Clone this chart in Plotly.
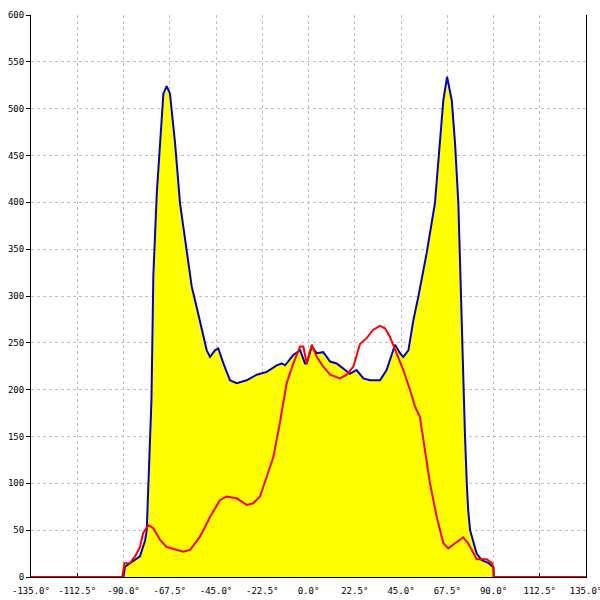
import plotly.graph_objects as go

# Blue envelope (filled yellow)
blue_x = [-90.0, -89.3, -82.0, -79.5, -78.7, -77.9, -77.1, -76.4, -76.0, -75.5, -73.8, -72.2,
          -70.6, -69.0, -67.4, -64.9, -62.5, -60.9, -58.5, -56.8, -54.4, -52.0, -49.5, -47.9,
          -45.5, -43.9, -41.4, -38.2, -34.9, -30.1, -25.2, -20.3, -15.5, -13.0, -11.4, -7.4,
          -4.1, -1.7, -0.9, 1.6, 4.0, 7.2, 10.5, 13.7, 16.9, 20.2, 23.4, 26.7, 29.9, 34.8,
          38.0, 42.1, 44.5, 46.1, 48.6, 51.0, 53.4, 57.5, 61.5, 64.0, 65.6, 67.4, 69.7, 71.3,
          72.9, 73.7, 74.5, 75.3, 76.1, 77.0, 77.7, 78.6, 80.2, 81.8, 84.3, 87.5, 89.1, 90.0, 90.1]
blue_y = [0, 11, 22, 39, 50, 100, 150, 189, 246, 321, 410, 463,
          516, 524, 516, 463, 399, 374, 338, 310, 288, 267, 242, 235,
          242, 244, 228, 210, 207, 210, 216, 219, 226, 228, 226, 237,
          242, 228, 228, 246, 239, 240, 230, 228, 223, 217, 221, 212, 210, 210,
          221, 248, 239, 235, 242, 274, 299, 346, 399, 463, 509, 534, 509, 463,
          399, 338, 267, 196, 153, 100, 71, 50, 36, 25, 18, 15, 12, 10, 0]

# Red curve (zero outside -90..90, running to the picture's edges)
red_x = [-150.0, -90.6, -89.5, -86.8, -84.4, -82.0, -80.4, -77.9, -75.5, -72.2, -69.0, -64.1,
         -60.9, -57.6, -52.8, -47.9, -43.1, -39.8, -34.9, -30.1, -26.9, -23.6, -20.3, -17.1,
         -13.9, -10.6, -7.4, -4.1, -2.5, -0.9, 1.6, 4.0, 7.2, 10.5, 15.3, 18.6, 21.8, 25.1,
         28.3, 31.5, 34.8, 37.2, 39.6, 42.9, 46.1, 49.4, 51.8, 54.2, 56.7, 59.1, 62.4, 65.6,
         68.0, 72.1, 75.3, 77.7, 81.8, 86.7, 89.1, 89.9, 90.2, 142.0]
red_y = [0, 0, 14.6, 15, 22, 32, 47, 55.5, 52, 39.5, 32, 29,
         27, 29, 43, 64, 82, 86, 84, 77, 78.7, 86, 107, 128,
         165, 207, 228, 246, 246, 228, 248, 235, 224.5, 216, 212, 216, 224.5, 249,
         255, 264, 268, 265.5, 256.5, 239, 221, 199.6, 182, 171, 135.6, 100, 64, 36,
         30.6, 37.7, 42.4, 36, 19, 19, 15, 11, 0, 0]

x_tick_vals = [-135, -112.5, -90, -67.5, -45, -22.5, 0, 22.5, 45, 67.5, 90, 112.5, 135]
x_tick_text = ["-135.0°", "-112.5°", "-90.0°", "-67.5°", "-45.0°", "-22.5°", "0.0°",
               "22.5°", "45.0°", "67.5°", "90.0°", "112.5°", "135.0°"]
y_tick_vals = list(range(0, 601, 50))

fig = go.Figure()
fig.add_trace(go.Scatter(x=blue_x, y=blue_y, mode="lines", fill="tozeroy",
                         fillcolor="#ffff00", line=dict(color="#0000cc", width=2),
                         hoverinfo="skip", showlegend=False))
fig.add_trace(go.Scatter(x=red_x, y=red_y, mode="lines", cliponaxis=False,
                         line=dict(color="#ff0000", width=2),
                         hoverinfo="skip", showlegend=False))

font = dict(family="DejaVu Sans Mono", size=9, color="black")
fig.update_layout(
    width=600, height=600,
    margin=dict(l=31, r=14, t=15, b=23, pad=0, autoexpand=False),
    paper_bgcolor="white", plot_bgcolor="white",
    font=font,
    xaxis=dict(range=[-135, 135], tickvals=x_tick_vals, ticktext=x_tick_text,
               showgrid=True, gridcolor="#c0c0c0", griddash="3px,3px", gridwidth=1,
               showline=True, linecolor="black", linewidth=1, layer="below traces",
               ticks="inside", ticklen=4, tickcolor="black", ticklabelstandoff=5,
               ticklabeloverflow="allow",
               zeroline=False, tickfont=font, fixedrange=True, automargin=False),
    yaxis=dict(range=[0, 600], tickvals=y_tick_vals,
               showgrid=True, gridcolor="#c0c0c0", griddash="3px,3px", gridwidth=1,
               showline=True, linecolor="black", linewidth=1, mirror=True,
               ticks="outside", ticklen=4, tickcolor="black",
               zeroline=False, tickfont=font, fixedrange=True, automargin=False),
)

fig.write_html("out.html", post_script="document.body.style.margin='0';",
               config={"displayModeBar": False, "staticPlot": True})
